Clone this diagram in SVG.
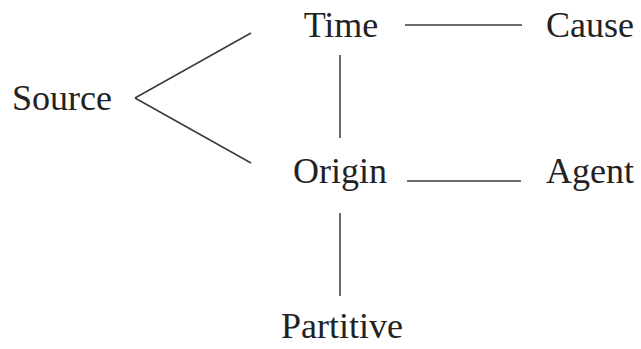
<svg xmlns="http://www.w3.org/2000/svg" width="641" height="349" viewBox="0 0 641 349">
<style>
text{font-family:"Liberation Serif","Times New Roman",serif;font-size:36px;fill:#222}
.c line{stroke:#3a3a3a;stroke-width:1.5;fill:none}
</style>
<rect width="641" height="349" fill="#fff"/>
<g class="c" id="connectors">
<line x1="251" y1="33" x2="135" y2="98"/>
<line x1="135" y1="98" x2="251" y2="163"/>
<line x1="405" y1="25" x2="522" y2="25"/>
<line x1="340" y1="55" x2="340" y2="138"/>
<line x1="407" y1="181" x2="521" y2="181"/>
<line x1="340" y1="213" x2="340" y2="296"/>
</g>
<g id="source"><text x="12" y="110">Source</text></g>
<g id="time"><text x="341" y="37" text-anchor="middle">Time</text></g>
<g id="cause"><text x="590" y="37" text-anchor="middle">Cause</text></g>
<g id="origin"><text x="340" y="183" text-anchor="middle">Origin</text></g>
<g id="agent"><text x="590" y="183" text-anchor="middle">Agent</text></g>
<g id="partitive"><text x="342" y="338" text-anchor="middle">Partitive</text></g>
</svg>
